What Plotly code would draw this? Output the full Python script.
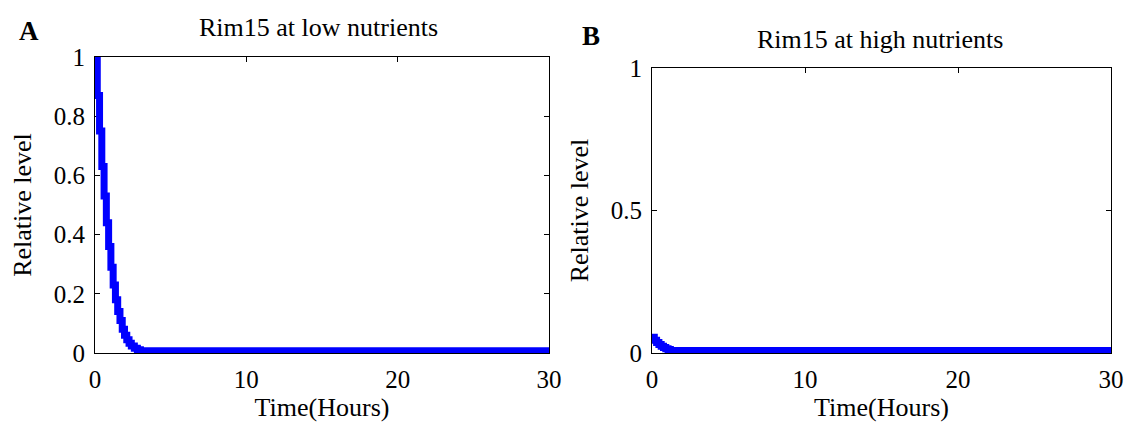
import plotly.graph_objects as go

# Panel A: Rim15 at low nutrients
time_a = [0, 0.15, 0.3, 0.45, 0.6, 0.75, 0.9, 1.05, 1.2, 1.35, 1.5, 1.65, 1.8, 1.95, 2.1, 2.25, 2.4, 2.6, 2.8, 3.0, 30]
level_a = [1.0, 0.87, 0.75, 0.63, 0.53, 0.44, 0.36, 0.29, 0.23, 0.18, 0.14, 0.11, 0.08, 0.06, 0.045, 0.033, 0.024, 0.016, 0.011, 0.008, 0.008]

# Panel B: Rim15 at high nutrients
time_b = [0, 0.15, 0.3, 0.45, 0.6, 0.75, 0.9, 1.05, 1.2, 30]
level_b = [0.055, 0.045, 0.037, 0.030, 0.024, 0.019, 0.015, 0.012, 0.009, 0.009]

x_ticks = [0, 10, 20, 30]
y_ticks_a = [0, 0.2, 0.4, 0.6, 0.8, 1]
y_ticks_a_text = ["0", "0.2", "0.4", "0.6", "0.8", "1"]
y_ticks_b = [0, 0.5, 1]
y_ticks_b_text = ["0", "0.5", "1"]

W, H = 1132, 429
L, R, T, B = 95, 21, 57, 76
PW, PH = W - L - R, H - T - B
FONT = "Liberation Serif"
BLUE = "#0000ff"

def px(x):
    return (x - L) / PW

def py(y):
    return (H - B - y) / PH

fig = go.Figure()
fig.add_trace(go.Scatter(x=time_a, y=level_a, mode="lines", line=dict(color=BLUE, width=7, shape="hv"),
                         xaxis="x", yaxis="y", showlegend=False))
fig.add_trace(go.Scatter(x=time_b, y=level_b, mode="lines", line=dict(color=BLUE, width=7, shape="hv"),
                         xaxis="x2", yaxis="y2", showlegend=False))

axis_common = dict(showgrid=False, zeroline=False, showline=True, linecolor="black", linewidth=1,
                   mirror="ticks", ticks="inside", ticklen=5, tickcolor="black", automargin=False,
                   ticklabelstandoff=4,
                   tickfont=dict(family=FONT, size=25, color="black"), layer="below traces")
title_font = dict(family=FONT, size=26, color="black")

fig.update_layout(
    width=W, height=H, margin=dict(l=L, r=R, t=T, b=B, autoexpand=False),
    paper_bgcolor="white", plot_bgcolor="white",
    xaxis=dict(domain=[px(95), px(549)], range=[0, 30], tickvals=x_ticks, anchor="y",
               title=dict(text="Time(Hours)", font=title_font, standoff=2),
               **axis_common),
    yaxis=dict(domain=[py(353), py(57)], range=[0, 1], tickvals=y_ticks_a, ticktext=y_ticks_a_text, anchor="x",
               title=dict(text="Relative level", font=title_font, standoff=14),
               **axis_common),
    xaxis2=dict(domain=[px(652), px(1111)], range=[0, 30], tickvals=x_ticks, anchor="y2",
                title=dict(text="Time(Hours)", font=title_font, standoff=2),
                **axis_common),
    yaxis2=dict(domain=[py(353), py(68)], range=[0, 1], tickvals=y_ticks_b, ticktext=y_ticks_b_text, anchor="x2",
                title=dict(text="Relative level", font=title_font, standoff=14),
                **axis_common),
    annotations=[
        dict(text="Rim15 at low nutrients", x=px(318), y=py(27), xref="paper", yref="paper",
             xanchor="center", yanchor="middle", showarrow=False, font=title_font),
        dict(text="Rim15 at high nutrients", x=px(880), y=py(39), xref="paper", yref="paper",
             xanchor="center", yanchor="middle", showarrow=False, font=title_font),
        dict(text="<b>A</b>", x=px(29), y=py(31), xref="paper", yref="paper",
             xanchor="center", yanchor="middle", showarrow=False, font=dict(family=FONT, size=27, color="black")),
        dict(text="<b>B</b>", x=px(591), y=py(36), xref="paper", yref="paper",
             xanchor="center", yanchor="middle", showarrow=False, font=dict(family=FONT, size=27, color="black")),
    ],
)

fig.write_html("out.html")
